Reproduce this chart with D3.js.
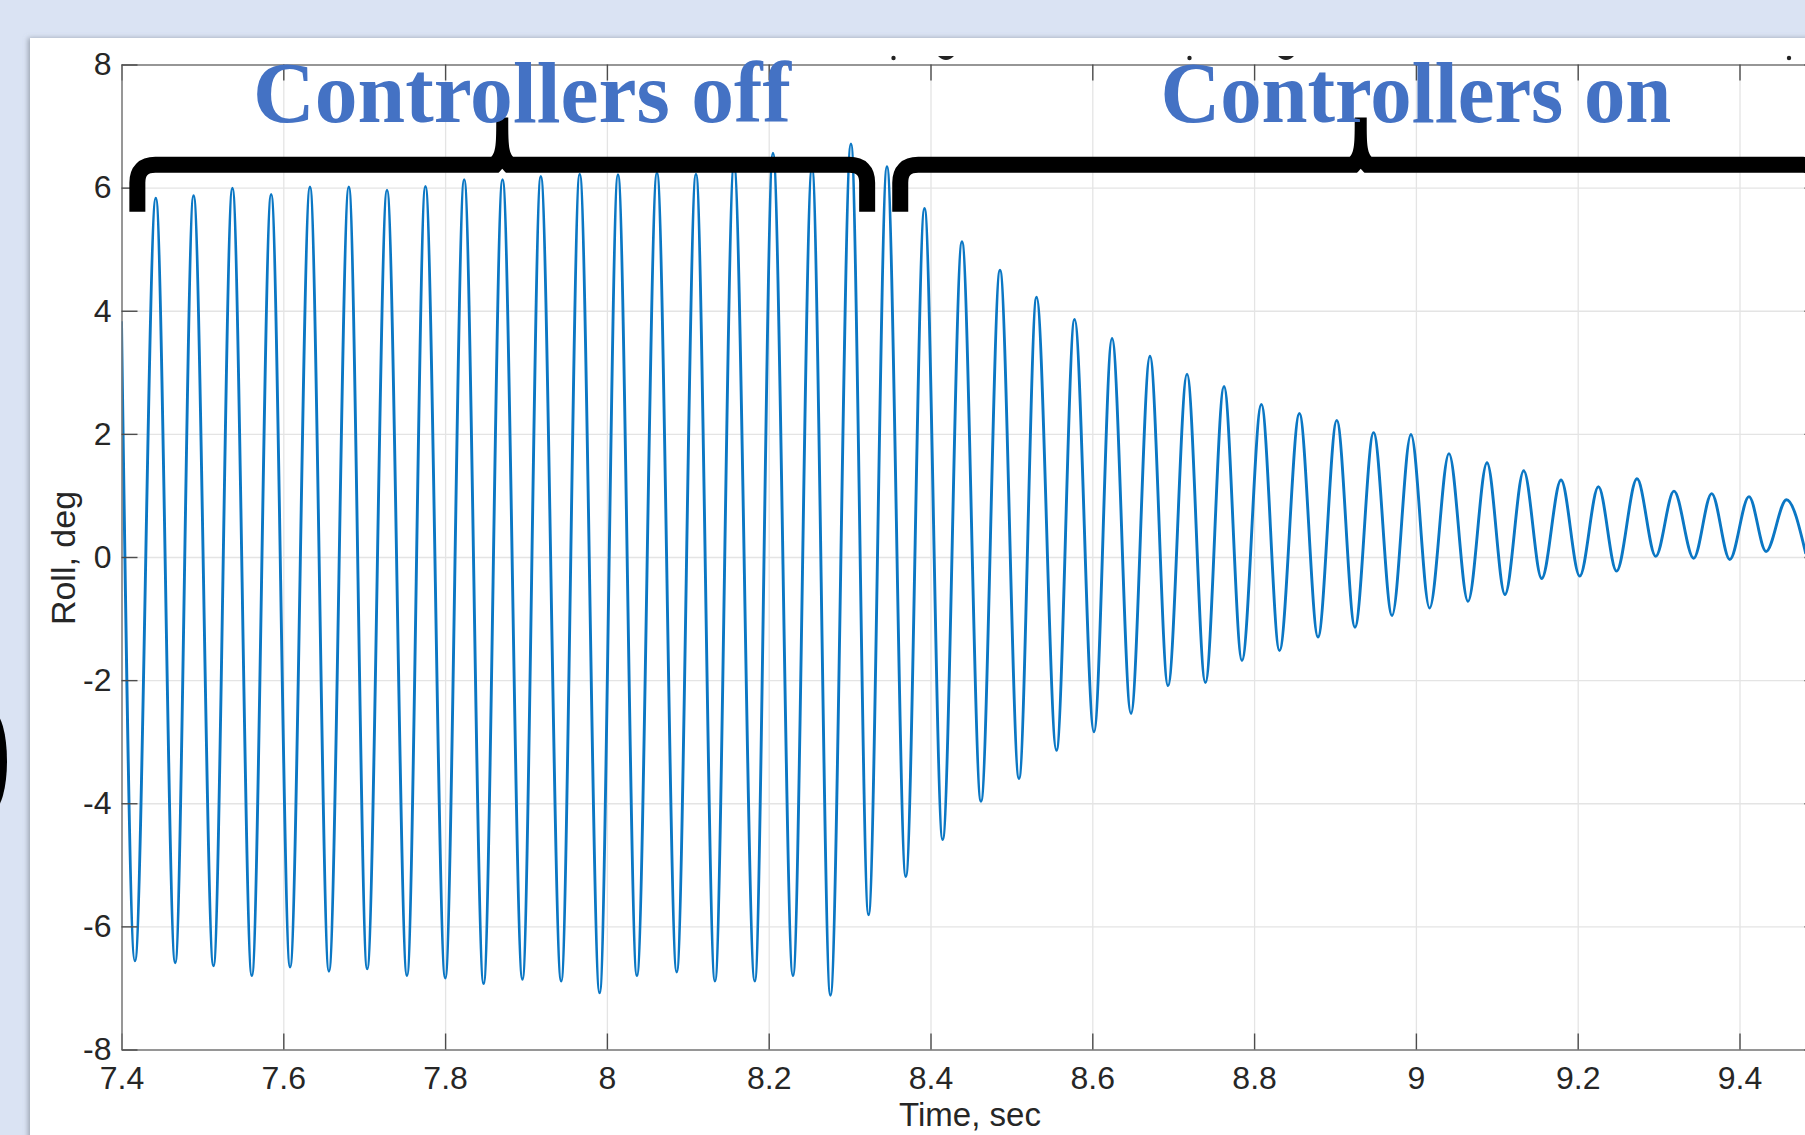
<!DOCTYPE html>
<html>
<head>
<meta charset="utf-8">
<script src="https://cdn.jsdelivr.net/npm/d3@7"></script>
<style>
  html, body { margin: 0; padding: 0; background: #dae3f3; overflow: hidden; }
  svg { display: block; }
  .axisLabel text { font-family: 'Liberation Sans', Arial, sans-serif; font-size: 32px; fill: #262626; }
  .axisLabel .domain { stroke: #7a7a7a; stroke-width: 1.5; }
  .axisLabel .tick line { stroke: #4d4d4d; stroke-width: 1.4; }
  .grid .tick line { stroke: #e4e4e4; stroke-width: 1.3; }
  .grid .domain { display: none; }
</style>
</head>
<body>
<svg width="1805" height="1135"></svg>
<script>
const xTicks = [7.4, 7.6, 7.8, 8, 8.2, 8.4, 8.6, 8.8, 9, 9.2, 9.4]
const yTicks = [-8, -6, -4, -2, 0, 2, 4, 6, 8]

// first sample and last visible sample of the roll trace
const startTime = 7.4
const startValue = 3.83
const endTime = 9.482
const endValue = 0.05

// local minima of roll, sec / deg
const troughTimes = [7.4166, 7.4664, 7.5137, 7.5611, 7.6084, 7.6564, 7.7037, 7.7529, 7.8002, 7.8476,
  7.8956, 7.9435, 7.9910, 8.0371, 8.0863, 8.1336, 8.1828, 8.2300, 8.2763, 8.3234,
  8.3695, 8.4150, 8.4624, 8.5094, 8.5557, 8.6021, 8.6478, 8.6936, 8.7398, 8.7850,
  8.8314, 8.8790, 8.9247, 8.9705, 9.0169, 9.0644, 9.1101, 9.1555, 9.2025, 9.2480,
  9.2964, 9.3433, 9.3880, 9.4328]
const troughValues = [-6.56, -6.59, -6.64, -6.80, -6.66, -6.73, -6.69, -6.80, -6.84, -6.93,
  -6.86, -6.89, -7.08, -6.80, -6.74, -6.89, -6.89, -6.80, -7.12, -5.81,
  -5.19, -4.59, -3.97, -3.60, -3.14, -2.84, -2.54, -2.09, -2.04, -1.68,
  -1.52, -1.30, -1.14, -0.95, -0.83, -0.72, -0.61, -0.35, -0.31, -0.23,
  0.01, -0.02, -0.04, 0.09]

// local maxima of roll, sec / deg
const peakTimes = [7.4424, 7.4891, 7.5371, 7.5850, 7.6330, 7.6810, 7.7282, 7.7757, 7.8236, 7.8710,
  7.9183, 7.9664, 8.0137, 8.0619, 8.1101, 8.1571, 8.2053, 8.2535, 8.3017, 8.3462,
  8.3926, 8.4389, 8.4859, 8.5311, 8.5781, 8.6244, 8.6713, 8.7171, 8.7628, 8.8090,
  8.8560, 8.9022, 8.9477, 8.9939, 9.0409, 9.0879, 9.1333, 9.1794, 9.2256, 9.2733,
  9.3190, 9.3656, 9.4117, 9.4581]
const peakValues = [5.83, 5.87, 5.99, 5.89, 6.01, 6.01, 5.96, 6.02, 6.13, 6.13,
  6.18, 6.22, 6.21, 6.24, 6.22, 6.36, 6.56, 6.32, 6.71, 6.34,
  5.66, 5.12, 4.66, 4.22, 3.86, 3.55, 3.26, 2.97, 2.77, 2.48,
  2.33, 2.22, 2.02, 1.99, 1.68, 1.53, 1.40, 1.25, 1.14, 1.27,
  1.07, 1.03, 0.98, 0.93]

// the two phases marked with braces: label, start and end time
const phaseLabels = ['Controllers off', 'Controllers on']
const phaseStarts = [7.4196, 8.3626]
const phaseEnds = [8.3217, 9.501]
const labelCenters = [7.895, 9.0]


function setDimensions () {
  const margin = {top: 64.5, left: 121.5}
  const width = 1698.9 // axes box runs past the window edge (x max 9.5)
  const height = 985
  return { width, height, margin }
}


function setScales ({ width, height, margin }) {
  return {
    xScale: d3.scaleLinear().domain([7.4, 9.5]).range([margin.left, margin.left + width]),
    yScale: d3.scaleLinear().domain([-8, 8]).range([margin.top + height, margin.top])
  }
}


function buildSeries () {
  let pts = [{ t: startTime, v: startValue }]
  troughTimes.forEach((t, i) => pts.push({ t, v: troughValues[i] }))
  peakTimes.forEach((t, i) => pts.push({ t, v: peakValues[i] }))
  pts.push({ t: endTime, v: endValue })
  return pts.sort((a, b) => a.t - b.t)
}


function drawBackground (svg) {
  let defs = svg.append('defs')
  defs.append('filter')
    .attr('id', 'shadow')
    .attr('x', '-5%').attr('y', '-5%').attr('width', '110%').attr('height', '110%')
    .append('feDropShadow')
      .attr('dx', -2).attr('dy', 0)
      .attr('stdDeviation', 2.5)
      .attr('flood-color', '#8e96a3')
      .attr('flood-opacity', 0.8)

  svg.append('rect')
    .attr('width', 1805).attr('height', 1135)
    .attr('fill', '#dae3f3')

  svg.append('rect')
    .attr('x', 30).attr('y', 38)
    .attr('width', 1820).attr('height', 1150)
    .attr('fill', '#fff')
    .attr('filter', 'url(#shadow)')

  // piece of a black shape peeking in at the left edge
  svg.append('ellipse')
    .attr('cx', -7).attr('cy', 761)
    .attr('rx', 14).attr('ry', 49)
    .attr('fill', '#000')
}


function drawGrid (svg, { width, height, margin }, { xScale, yScale }) {
  svg.append('g')
    .attr('class', 'grid')
    .attr('transform', `translate(0,${margin.top + height})`)
    .call(d3.axisBottom(xScale).tickValues(xTicks).tickSize(-height).tickFormat(''))

  svg.append('g')
    .attr('class', 'grid')
    .attr('transform', `translate(${margin.left},0)`)
    .call(d3.axisLeft(yScale).tickValues(yTicks).tickSize(-width).tickFormat(''))
}


function drawAxes (svg, { width, height, margin }, { xScale, yScale }) {
  const plain = (d) => String(d) // keep ascii hyphen for negatives, like MATLAB

  svg.append('g')
    .attr('class', 'axisLabel bottomAxis')
    .attr('transform', `translate(0,${margin.top + height})`)
    .call(d3.axisBottom(xScale).tickValues(xTicks).tickSize(-16).tickSizeOuter(0).tickPadding(17)
      .tickFormat(plain))

  svg.append('g')
    .attr('class', 'axisLabel')
    .attr('transform', `translate(0,${margin.top})`)
    .call(d3.axisTop(xScale).tickValues(xTicks).tickSize(-16).tickSizeOuter(0).tickFormat(''))

  svg.append('g')
    .attr('class', 'axisLabel leftAxis')
    .attr('transform', `translate(${margin.left},0)`)
    .call(d3.axisLeft(yScale).tickValues(yTicks).tickSize(-16).tickSizeOuter(0).tickPadding(10)
      .tickFormat(plain))

  svg.append('g')
    .attr('class', 'axisLabel')
    .attr('transform', `translate(${margin.left + width},0)`)
    .call(d3.axisRight(yScale).tickValues(yTicks).tickSize(-16).tickSizeOuter(0).tickFormat(''))

  svg.append('text')
    .attr('x', 970).attr('y', 1126)
    .attr('text-anchor', 'middle')
    .style('font-family', "'Liberation Sans', Arial, sans-serif")
    .style('font-size', '33px')
    .style('fill', '#262626')
    .text('Time, sec')

  svg.append('text')
    .attr('transform', 'translate(75,558) rotate(-90)')
    .attr('text-anchor', 'middle')
    .style('font-family', "'Liberation Sans', Arial, sans-serif")
    .style('font-size', '34px')
    .style('fill', '#262626')
    .text('Roll, deg')
}


function drawPath (svg, data, { width, height, margin }, { xScale, yScale }) {
  svg.append('clipPath')
    .attr('id', 'clipPath')
    .append('rect')
      .attr('x', margin.left).attr('y', margin.top)
      .attr('width', width).attr('height', height)

  let path = d3.line()
    .curve(d3.curveMonotoneX)
    .x((d) => xScale(d.t))
    .y((d) => yScale(d.v))

  svg.append('path')
    .datum(data)
    .attr('clip-path', 'url(#clipPath)')
    .attr('d', path)
    .attr('fill', 'none')
    .attr('stroke', '#0b77c4')
    .attr('stroke-width', 2.9)
    .attr('stroke-linejoin', 'round')
}


function drawTitleRemnants (svg) {
  // bottoms of the original figure title, mostly covered by the white panel
  const dots = [893.5, 1189.5, 1789]
  const arcs = [946, 1286]
  dots.forEach((x) => svg.append('circle').attr('cx', x).attr('cy', 58).attr('r', 2.2).attr('fill', '#222'))
  arcs.forEach((x) => svg.append('path')
    .attr('d', `M${x - 8},56 Q${x},64 ${x + 8},56 Z`)
    .attr('fill', '#222'))
}


function drawBraces (svg, { xScale, yScale }) {
  const yBar = yScale(6.37)
  const yEnd = yScale(5.61)
  const yTip = yScale(7.14)
  const r = 18

  phaseStarts.forEach((t0, i) => {
    const x0 = xScale(t0)
    const x1 = xScale(phaseEnds[i])
    const xm = (x0 + x1) / 2

    svg.append('path')
      .attr('d', `M${x0},${yEnd} L${x0},${yBar + r} Q${x0},${yBar} ${x0 + r},${yBar}` +
        ` L${x1 - r},${yBar} Q${x1},${yBar} ${x1},${yBar + r} L${x1},${yEnd}`)
      .attr('fill', 'none')
      .attr('stroke', '#000')
      .attr('stroke-width', 16)

    svg.append('path')
      .attr('d', `M${xm - 12},${yBar - 7} C${xm - 6},${yBar - 12} ${xm - 6},${yBar - 22} ${xm - 6},${yTip}` +
        ` L${xm + 6},${yTip} C${xm + 6},${yBar - 22} ${xm + 6},${yBar - 12} ${xm + 12},${yBar - 7} Z`)
      .attr('fill', '#000')

    // small notch under the tip
    svg.append('path')
      .attr('d', `M${xm - 4},${yBar + 8.5} L${xm},${yBar + 4} L${xm + 4},${yBar + 8.5} Z`)
      .attr('fill', '#fff')
  })
}


function drawPhaseLabels (svg, { xScale, yScale }) {
  const widths = [538, 511]
  phaseLabels.forEach((label, i) => {
    svg.append('text')
      .attr('x', xScale(labelCenters[i]))
      .attr('y', yScale(7.07))
      .attr('text-anchor', 'middle')
      .attr('textLength', widths[i])
      .attr('lengthAdjust', 'spacingAndGlyphs')
      .style('font-family', "'Liberation Serif', 'Times New Roman', serif")
      .style('font-weight', 'bold')
      .style('font-size', '86px')
      .style('fill', '#4472c4')
      .text(label)
  })
}


function createGraph () {
  const dim = setDimensions()
  const scales = setScales(dim)
  const data = buildSeries()
  let svg = d3.select('svg')

  drawBackground(svg)
  drawTitleRemnants(svg)
  drawGrid(svg, dim, scales)
  drawPath(svg, data, dim, scales)
  drawAxes(svg, dim, scales)
  drawBraces(svg, scales)
  drawPhaseLabels(svg, scales)
}

createGraph()
</script>
</body>
</html>
